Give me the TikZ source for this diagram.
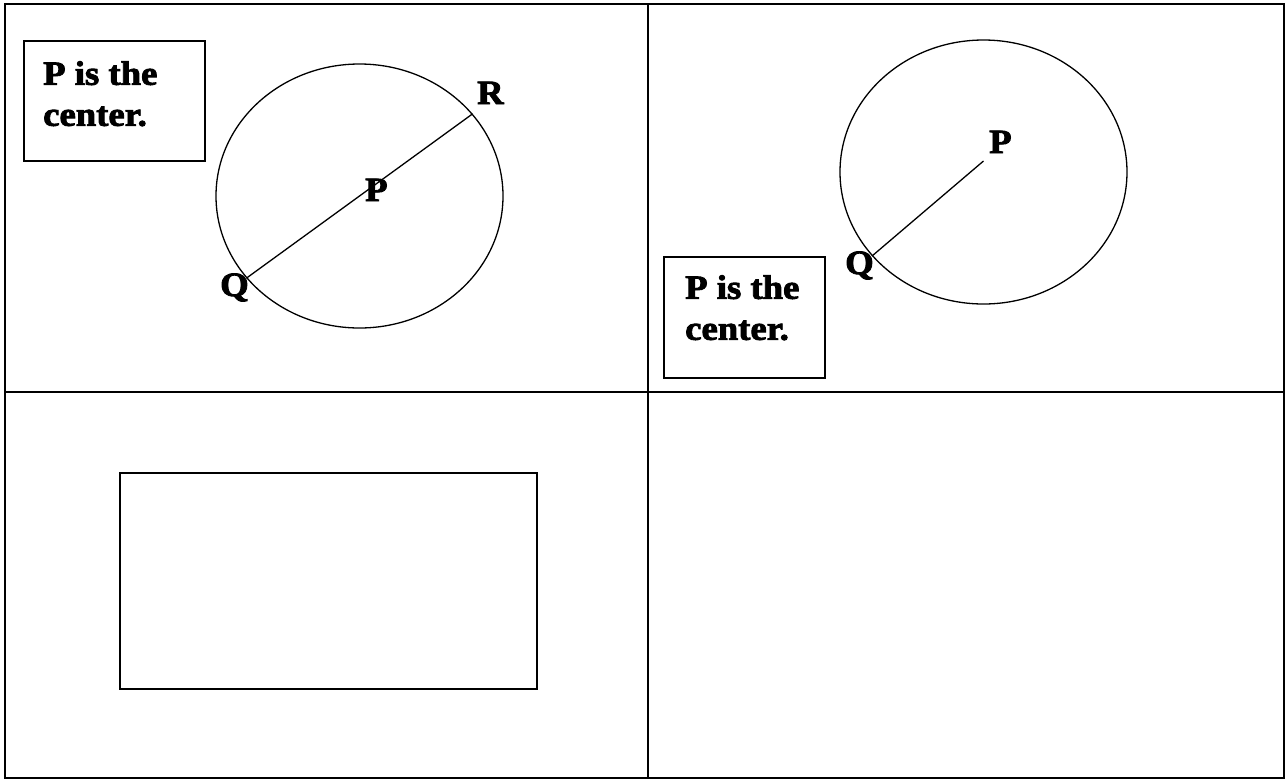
\documentclass[tikz,border=0pt]{standalone}
\usepackage{fontspec}
\usetikzlibrary{shapes.geometric}
\newfontfamily\fatface{Liberation Serif}[UprightFont={* Bold}, FakeStretch=1.08, FakeBold=2.5]

\begin{document}
\begin{tikzpicture}[
    x=1pt, y=-1pt,
    frame/.style={draw=black, line width=2pt},
    notebox/.style={draw=black, line width=1.6pt, inner sep=0pt, anchor=north west},
    notetext/.style={font=\fatface\fontsize{34}{41}\selectfont, align=left, inner sep=0pt, anchor=north west},
    ring/.style={draw=black, line width=1.3pt, ellipse, inner sep=0pt, minimum width=287pt, minimum height=264pt},
    radius/.style={draw=black, line width=1.3pt},
    ptlabel/.style={font=\fatface\fontsize{34}{34}\selectfont, inner sep=0pt, anchor=base west},
]
\useasboundingbox (0,0) rectangle (1286,780);

% ── Table frame ──
\draw[frame] (5,4) rectangle (1284,778);
\draw[frame] (648,4) -- (648,778);
\draw[frame] (5,392) -- (1284,392);

% ── Top left: diameter ──
\node[notebox, minimum width=181pt, minimum height=120pt] (tlnote) at (23,40) {};
\node[notetext] (tltext) at ([shift={(20,21)}]tlnote.north west) {P is the\\center.};

\node[ring] (tlcircle) at (359.5,196) {};
\draw[radius] (tlcircle.216.5) -- (tlcircle.36.5);

\node[ptlabel] (tlP) at (365,201) {P};
\node[ptlabel] (tlQ) at (220,296) {Q};
\node[ptlabel] (tlR) at (477,104) {R};

% ── Top right: radius ──
\node[ring] (trcircle) at (983.5,172) {};
\coordinate (trmid) at ([yshift=11pt]trcircle.center);
\draw[radius] (trcircle.217) -- (trmid);

\node[ptlabel] (trP) at (989,153) {P};
\node[ptlabel] (trQ) at (845,274) {Q};

\node[notebox, minimum width=161pt, minimum height=121pt] (trnote) at (663,256) {};
\node[notetext] (trtext) at ([shift={(22,19)}]trnote.north west) {P is the\\center.};

% ── Bottom left: empty box ──
\node[notebox, minimum width=417pt, minimum height=216pt] (blbox) at (119,472) {};

\end{tikzpicture}
\end{document}
